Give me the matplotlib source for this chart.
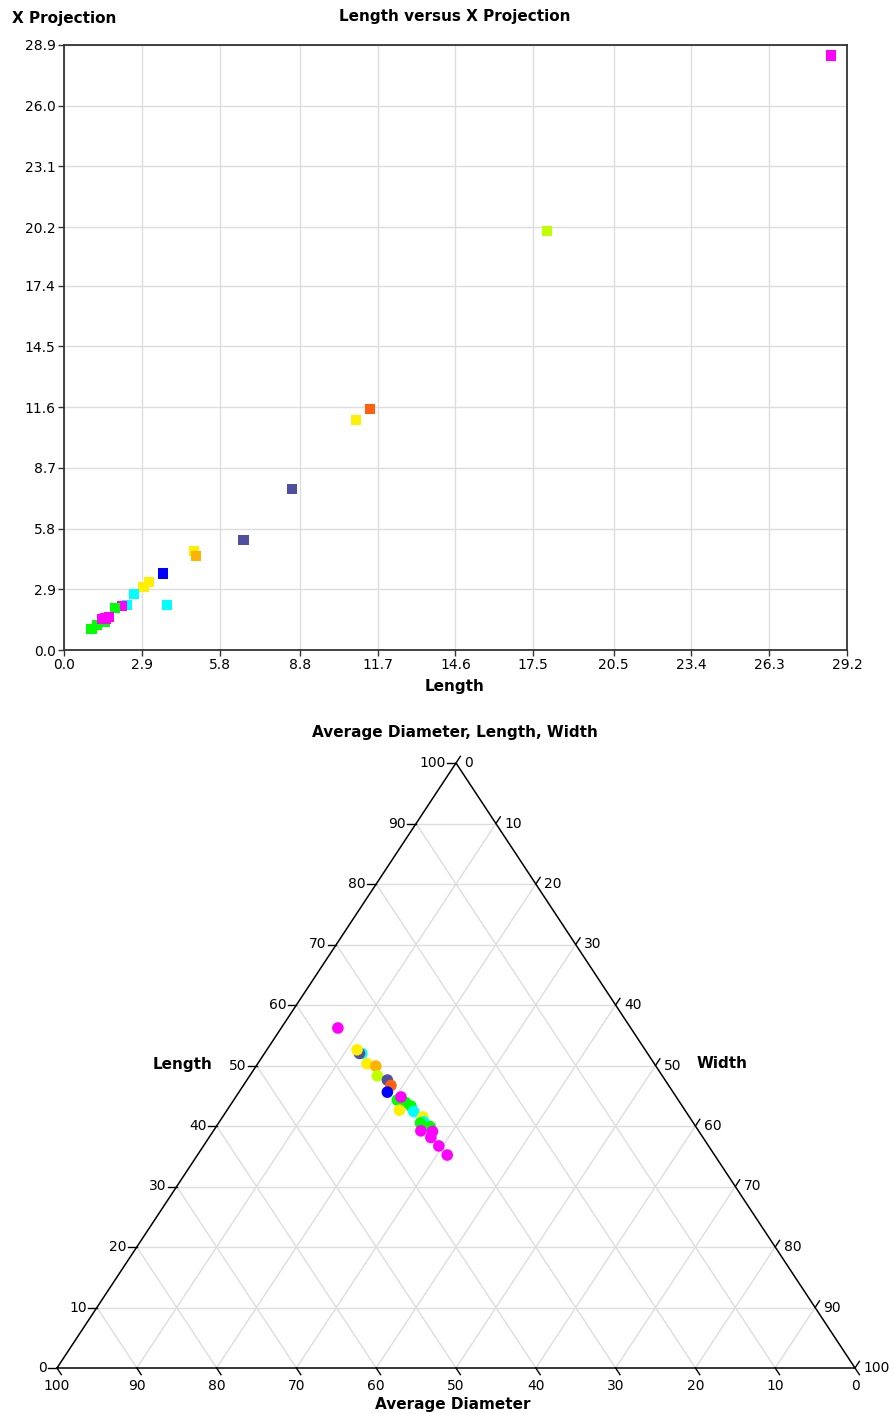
import numpy as np
import matplotlib
matplotlib.use("Agg")
import matplotlib.pyplot as plt

plt.rcParams['font.family'] = ['DejaVu Sans']

# ---- scatter data: Length vs X Projection ----
length_x = [28.6, 18.0, 11.4, 10.9, 8.5, 6.69, 4.86, 4.91, 3.68, 3.17, 2.97, 2.61,
            3.83, 2.36, 2.15, 1.90, 1.53, 1.22, 1.03, 1.69, 1.41, 1.55]
xproj_y = [28.4, 20.0, 11.5, 11.0, 7.7, 5.26, 4.74, 4.49, 3.66, 3.25, 3.01, 2.66,
           2.14, 2.14, 2.10, 1.99, 1.35, 1.19, 1.00, 1.56, 1.47, 1.50]
scatter_colors = ['#ff00ff', '#c0ff00', '#ff6010', '#ffef00', '#5050a0', '#5050a0',
                  '#ffef00', '#ffb300', '#0000ff', '#ffef00', '#ffef00', '#00ffff',
                  '#00ffff', '#00ffff', '#ff00ff', '#00ff00', '#00ff00', '#00ff00',
                  '#00ff00', '#ff00ff', '#ff00ff', '#ff00ff']
x_ticks = [0.0, 2.9, 5.8, 8.8, 11.7, 14.6, 17.5, 20.5, 23.4, 26.3, 29.2]
y_ticks = [0.0, 2.9, 5.8, 8.7, 11.6, 14.5, 17.4, 20.2, 23.1, 26.0, 28.9]

# ---- ternary data (percent) ----
length_t = [56.2, 52.0, 52.0, 52.6, 50.3, 49.9, 48.3, 47.6, 46.7, 45.6, 44.3, 43.9,
            43.3, 44.8, 42.6, 42.4, 41.5, 40.7, 40.5, 39.9, 39.1, 39.2, 38.1, 36.7, 35.2]
width_t = [7.1, 12.2, 11.9, 11.3, 13.7, 15.0, 16.0, 17.6, 18.5, 18.6, 20.5, 21.7,
           22.7, 20.7, 21.6, 23.5, 25.1, 25.6, 25.3, 26.8, 27.5, 26.0, 27.8, 29.5, 31.3]
avg_diam_t = [36.7, 35.8, 36.1, 36.1, 36.0, 35.1, 35.7, 34.8, 34.8, 35.8, 35.2, 34.4,
              34.0, 34.5, 35.8, 34.1, 33.4, 33.7, 34.2, 33.3, 33.4, 34.8, 34.1, 33.8, 33.5]
ternary_colors = ['#ff00ff', '#00ffff', '#5050a0', '#ffef00', '#ffef00', '#ffb300',
                  '#c0ff00', '#5050a0', '#ff6010', '#0000ff', '#00ff00', '#00ff00',
                  '#00ff00', '#ff00ff', '#ffef00', '#00ffff', '#ffef00', '#00ffff',
                  '#00ff00', '#00ff00', '#ff00ff', '#ff00ff', '#ff00ff', '#ff00ff', '#ff00ff']

W, H = 893, 1414
fig = plt.figure(figsize=(W / 100, H / 100), dpi=100)

def fx(px):
    return px / W

def fy(py):
    return 1 - py / H

BOLD = 11
TICK = 10

# ---------------- top scatter ----------------
ax = fig.add_axes([fx(64), fy(650), (847 - 64) / W, (650 - 45) / H])
ax.scatter(length_x, xproj_y, c=scatter_colors, marker='s', s=55, linewidths=0, zorder=3)
ax.set_xlim(0, 29.2)
ax.set_ylim(0, 28.9)
ax.set_xticks(x_ticks)
ax.set_xticklabels([f"{v:.1f}" for v in x_ticks])
ax.set_yticks(y_ticks)
ax.set_yticklabels([f"{v:.1f}" for v in y_ticks])
ax.grid(True, color='#dddddd', linewidth=1)
ax.set_axisbelow(True)
for sp in ax.spines.values():
    sp.set_color('#333333')
    sp.set_linewidth(1.3)
ax.tick_params(length=4, width=1, color='#333333', labelsize=TICK, pad=2)

fig.text(fx(455), fy(16), "Length versus X Projection", ha='center', va='center',
         fontsize=BOLD, fontweight='bold')
fig.text(fx(12), fy(18), "X Projection", ha='left', va='center', fontsize=BOLD,
         fontweight='bold')
fig.text(fx(455), fy(686), "Length", ha='center', va='center', fontsize=BOLD,
         fontweight='bold')

# ---------------- ternary ----------------
tx = fig.add_axes([fx(57), fy(1368), (855 - 57) / W, (1368 - 763) / H])
tx.set_xlim(0, 1)
tx.set_ylim(0, 1)
tx.axis('off')

def to_xy(l, w):
    return w + l / 2, l

grid_c = '#dddddd'
for i in range(1, 10):
    f = i / 10
    # constant length
    p0 = to_xy(f, 0); p1 = to_xy(f, 1 - f)
    tx.plot([p0[0], p1[0]], [p0[1], p1[1]], color=grid_c, lw=1, zorder=1)
    # constant width
    p0 = to_xy(0, f); p1 = to_xy(1 - f, f)
    tx.plot([p0[0], p1[0]], [p0[1], p1[1]], color=grid_c, lw=1, zorder=1)
    # constant average diameter
    p0 = to_xy(0, 1 - f); p1 = to_xy(1 - f, 0)
    tx.plot([p0[0], p1[0]], [p0[1], p1[1]], color=grid_c, lw=1, zorder=1)

tx.plot([0, 1, 0.5, 0], [0, 0, 1, 0], color='black', lw=1.1, zorder=2, clip_on=False)

tk = 0.011
for i in range(11):
    f = i / 10
    lab = str(i * 10)
    # left axis: Length
    p0 = to_xy(f, 0); p1 = to_xy(f, -tk)
    tx.plot([p0[0], p1[0]], [p0[1], p1[1]], color='black', lw=1, clip_on=False)
    tx.annotate(lab, p1, xytext=(-1, 0), textcoords='offset points', ha='right',
                va='center', fontsize=TICK, annotation_clip=False)
    # bottom axis: Average Diameter (100 at left)
    p0 = to_xy(0, f); p1 = to_xy(-tk, f + tk)
    tx.plot([p0[0], p1[0]], [p0[1], p1[1]], color='black', lw=1, clip_on=False)
    tx.annotate(str(100 - i * 10), p0, xytext=(0, -13), textcoords='offset points',
                ha='center', va='center', fontsize=TICK, annotation_clip=False)
    # right axis: Width (0 at top)
    p0 = to_xy(1 - f, f); p1 = to_xy(1 - f + tk, f)
    tx.plot([p0[0], p1[0]], [p0[1], p1[1]], color='black', lw=1, clip_on=False)
    tx.annotate(lab, p0, xytext=(6, 0), textcoords='offset points', ha='left',
                va='center', fontsize=TICK, annotation_clip=False)

tl = np.array(length_t)
tw = np.array(width_t)
td = np.array(avg_diam_t)
tot = tl + tw + td
px, py = to_xy(tl / tot, tw / tot)
tx.scatter(px, py, c=ternary_colors, s=70, linewidths=0, zorder=4, clip_on=False)

fig.text(fx(455), fy(733), "Average Diameter, Length, Width", ha='center', va='center',
         fontsize=BOLD, fontweight='bold')
fig.text(fx(183), fy(1064), "Length", ha='center', va='center', fontsize=BOLD,
         fontweight='bold')
fig.text(fx(722), fy(1064), "Width", ha='center', va='center', fontsize=BOLD,
         fontweight='bold')
fig.text(fx(453), fy(1404), "Average Diameter", ha='center', va='center', fontsize=BOLD,
         fontweight='bold')

fig.savefig('out.png', dpi=100)
